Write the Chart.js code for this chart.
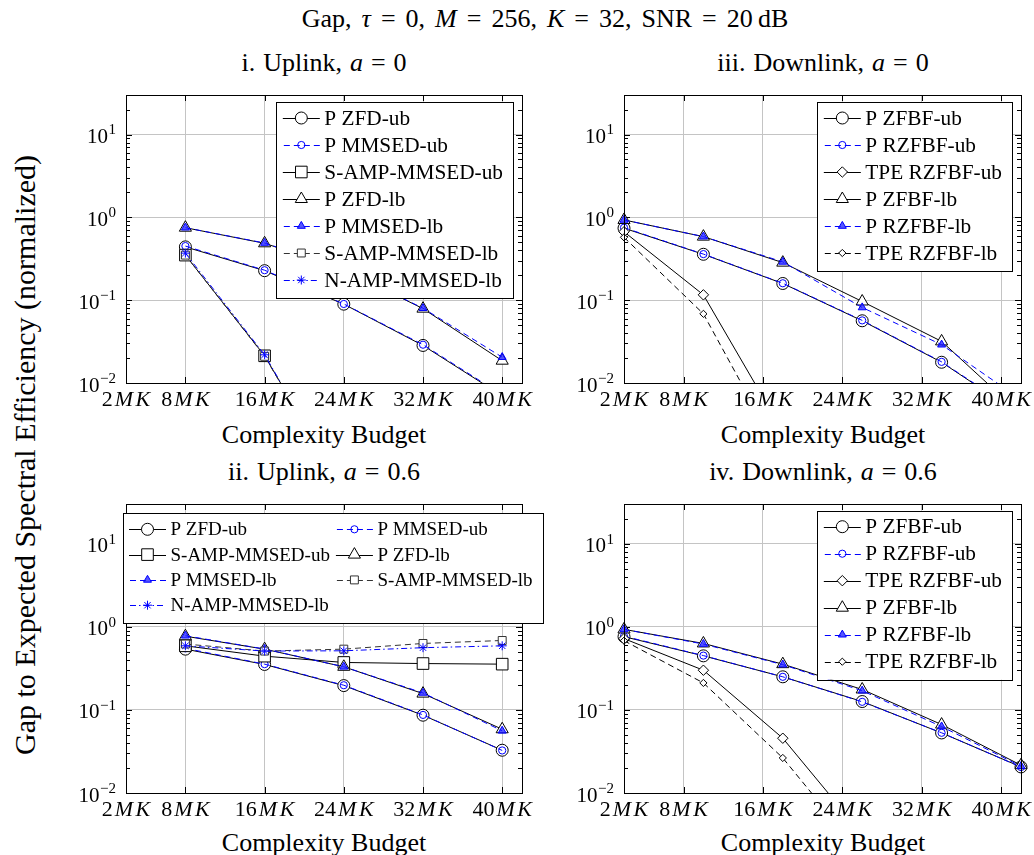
<!DOCTYPE html>
<html>
<head>
<meta charset="utf-8">
<script src="https://cdn.jsdelivr.net/npm/chart.js@4.4.1/dist/chart.umd.min.js"></script>
<style>
  body { margin: 0; background: #fff; }
  #page { position: relative; width: 1034px; height: 855px; overflow: hidden;
          font-family: "Liberation Serif", "Times New Roman", serif; color: #000; }
  .txt { position: absolute; white-space: nowrap; transform: translate(-50%, -50%);
         font-size: 26px; line-height: 1; }
  .title { word-spacing: 3.5px; }
  .sub { word-spacing: 1.5px; }
  .ylab { transform: translate(-50%, -50%) rotate(-90deg); font-size: 30px; }
  canvas { position: absolute; }
</style>
</head>
<body>
<div id="page">
  <div class="txt title" style="left:545px;top:19px">Gap, <i>τ</i> = 0, <i>M</i> = 256, <i>K</i> = 32, SNR = 20&thinsp;dB</div>
  <div class="txt sub" style="left:324px;top:63px">i. Uplink, <i>a</i> = 0</div>
  <div class="txt sub" style="left:823px;top:63px">iii. Downlink, <i>a</i> = 0</div>
  <div class="txt sub" style="left:324px;top:472px">ii. Uplink, <i>a</i> = 0.6</div>
  <div class="txt sub" style="left:823px;top:472px">iv. Downlink, <i>a</i> = 0.6</div>
  <div class="txt" style="left:324px;top:435px">Complexity Budget</div>
  <div class="txt" style="left:823px;top:435px">Complexity Budget</div>
  <div class="txt" style="left:324px;top:843px">Complexity Budget</div>
  <div class="txt" style="left:823px;top:843px">Complexity Budget</div>
  <div class="txt ylab" style="left:25px;top:455px">Gap to Expected Spectral Efficiency (normalized)</div>
  <canvas id="c1"></canvas>
  <canvas id="c2"></canvas>
  <canvas id="c3"></canvas>
  <canvas id="c4"></canvas>
</div>
<script>
// budgets in units of MK
const uplinkBudget = [8, 16, 24, 32, 40];
const downlinkBudget = [2, 10, 18, 26, 34, 42];
const budgetTicks = [2, 8, 16, 24, 32, 40];
const gapTicks = [0.01, 0.1, 1, 10];

// i. Uplink, a = 0
const ul0_pZfdUb   = [0.44, 0.227, 0.0895, 0.0284, 0.007];
const ul0_pMmsedUb = [0.45, 0.23, 0.09, 0.029, 0.0072];
const ul0_sAmpUb   = [0.35, 0.0213, 0.0005, null, null];
const ul0_pZfdLb   = [0.75, 0.486, 0.235, 0.079, 0.0186];
const ul0_pMmsedLb = [0.75, 0.49, 0.235, 0.08, 0.0205];
const ul0_sAmpLb   = [0.35, 0.021, 0.0005, null, null];
const ul0_nAmpLb   = [0.37, 0.0219, 0.0005, null, null];

// ii. Uplink, a = 0.6
const ul6_pZfdUb   = [0.538, 0.352, 0.196, 0.0863, 0.0327];
const ul6_pMmsedUb = [0.55, 0.355, 0.198, 0.087, 0.0325];
const ul6_sAmpUb   = [0.59, 0.443, 0.372, 0.361, 0.355];
const ul6_pZfdLb   = [0.77, 0.538, 0.33, 0.157, 0.0585];
const ul6_pMmsedLb = [0.78, 0.54, 0.33, 0.16, 0.056];
const ul6_sAmpLb   = [0.62, 0.51, 0.538, 0.63, 0.684];
const ul6_nAmpLb   = [0.59, 0.51, 0.514, 0.56, 0.59];

// iii. Downlink, a = 0
const dl0_pZfbfUb  = [0.74, 0.358, 0.159, 0.0564, 0.0178, 0.0041];
const dl0_pRzfbfUb = [0.75, 0.36, 0.16, 0.057, 0.018, 0.0042];
const dl0_tpeUb    = [0.67, 0.116, 0.0026, null, null, null];
const dl0_pZfbfLb  = [0.93, 0.585, 0.284, 0.0964, 0.0318, 0.0042];
const dl0_pRzfbfLb = [0.93, 0.585, 0.29, 0.0816, 0.029, 0.0063];
const dl0_tpeLb    = [0.574, 0.0684, 0.0012, null, null, null];

// iv. Downlink, a = 0.6
const dl6_pZfbfUb  = [0.76, 0.447, 0.25, 0.126, 0.0528, 0.0206];
const dl6_pRzfbfUb = [0.77, 0.45, 0.25, 0.125, 0.053, 0.0205];
const dl6_tpeUb    = [0.72, 0.30, 0.0456, 0.0032, null, null];
const dl6_pZfbfLb  = [0.93, 0.63, 0.355, 0.176, 0.0666, 0.0216];
const dl6_pRzfbfLb = [0.93, 0.62, 0.35, 0.17, 0.063, 0.021];
const dl6_tpeLb    = [0.68, 0.211, 0.0264, 0.0018, null, null];

const BLUE = '#0000ff';
const FONT = '"Liberation Serif", "Times New Roman", serif';
const styles = {
  zfUb:  { color: '#000', dash: [], point: 'circle', r: 6, fill: '#fff' },
  rzUb:  { color: BLUE, dash: [6, 4], point: 'circle', r: 3.6, fill: 'rgba(0,0,0,0)' },
  ampUb: { color: '#000', dash: [], point: 'rect', r: 8.2, fill: '#fff' },
  tpeUb: { color: '#000', dash: [], point: 'rectRot', r: 5.2, fill: '#fff' },
  zfLb:  { color: '#000', dash: [], point: 'triangle', r: 7, fill: '#fff' },
  rzLb:  { color: BLUE, dash: [6, 4], point: 'triangle', r: 4.6, fill: 'rgba(30,30,255,0.75)' },
  ampLb: { color: '#333', dash: [6, 4], point: 'rect', r: 5.6, fill: '#fff' },
  tpeLb: { color: '#000', dash: [6, 4], point: 'rectRot', r: 3.6, fill: '#fff' },
  nAmpLb:{ color: BLUE, dash: [6, 3, 1.5, 3], point: 'star', r: 4.5, fill: BLUE }
};

function dataset(label, budget, values, styleName, i) {
  const st = styles[styleName];
  return {
    label: label,
    data: budget.map((b, k) => ({ x: b, y: values[k] })),
    borderColor: st.color, borderWidth: 1, borderDash: st.dash,
    pointStyle: st.point, pointRadius: st.r, pointBorderWidth: 1,
    pointBorderColor: st.color, pointBackgroundColor: st.fill,
    styleName: styleName, order: -i, tension: 0, fill: false,
    clip: { left: 10, right: 10, top: 0, bottom: 0 }
  };
}

function drawMarker(ctx, st, x, y) {
  ctx.save();
  ctx.setLineDash([]);
  ctx.lineWidth = 1;
  ctx.strokeStyle = st.color;
  ctx.fillStyle = st.fill;
  Chart.helpers.drawPoint(ctx, { pointStyle: st.point, radius: st.r, rotation: 0, borderWidth: 1 }, x, y);
  ctx.restore();
}

function drawLegend(ctx, chart, spec) {
  const a = chart.chartArea;
  const items = chart.data.datasets;
  const cols = spec.cols;
  const rows = Math.ceil(items.length / cols);
  ctx.font = spec.font + 'px ' + FONT;
  const colText = [];
  for (let c = 0; c < cols; c++) {
    let w = 0;
    items.forEach((d, i) => { if (i % cols === c) w = Math.max(w, ctx.measureText(d.label).width); });
    colText.push(w);
  }
  const textOff = 41.5, colGap = 6;
  let width = 6.5;
  colText.forEach((w, c) => { width += textOff + w + (c < cols - 1 ? colGap : 0); });
  width += 10;
  const height = 16 + (rows - 1) * spec.rowH + 18;
  const left = spec.anchor === 'right' ? a.right + spec.dx - width : a.left + spec.dx;
  const top = a.top + spec.dy;
  ctx.save();
  ctx.fillStyle = '#fff';
  ctx.fillRect(left, top, width, height);
  ctx.strokeStyle = '#000';
  ctx.lineWidth = 1;
  ctx.strokeRect(Math.round(left) + 0.5, Math.round(top) + 0.5, Math.round(width), Math.round(height));
  items.forEach((d, i) => {
    const c = i % cols, r = Math.floor(i / cols);
    let cx = left + 6.5;
    for (let k = 0; k < c; k++) cx += textOff + colText[k] + colGap;
    const cy = top + 16 + r * spec.rowH;
    const st = styles[d.styleName];
    ctx.beginPath();
    ctx.setLineDash(st.dash);
    ctx.lineDashOffset = st.dash.length ? -1 : 0;
    ctx.strokeStyle = st.color;
    ctx.moveTo(cx, Math.round(cy) + 0.5);
    ctx.lineTo(cx + 37, Math.round(cy) + 0.5);
    ctx.stroke();
    drawMarker(ctx, st, cx + 18.5, cy);
    ctx.setLineDash([]);
    ctx.fillStyle = '#000';
    ctx.font = spec.font + 'px ' + FONT;
    ctx.textAlign = 'left';
    ctx.textBaseline = 'middle';
    ctx.fillText(d.label, cx + textOff, cy + 1);
  });
  ctx.restore();
}

const framePlugin = {
  id: 'frame',
  beforeDatasetsDraw(chart) {
    const { ctx, chartArea: a, scales: { x, y } } = chart;
    ctx.save();
    ctx.strokeStyle = '#000';
    ctx.lineWidth = 1;
    ctx.beginPath();
    for (let k = -2; k <= 1; k++) {
      for (let m = 1; m <= 9; m++) {
        const v = m * Math.pow(10, k);
        if (v < y.min || v > y.max) continue;
        const py = Math.round(y.getPixelForValue(v)) + 0.5;
        const len = m === 1 ? 6 : 4;
        ctx.moveTo(a.left, py); ctx.lineTo(a.left + len, py);
        ctx.moveTo(a.right, py); ctx.lineTo(a.right - len, py);
      }
    }
    budgetTicks.forEach(v => {
      const px = Math.round(x.getPixelForValue(v)) + 0.5;
      ctx.moveTo(px, a.bottom); ctx.lineTo(px, a.bottom - 6);
      ctx.moveTo(px, a.top); ctx.lineTo(px, a.top + 6);
    });
    ctx.stroke();
    ctx.restore();
  },
  afterDatasetsDraw(chart, args, opts) {
    const { ctx, chartArea: a, scales: { x, y } } = chart;
    ctx.save();
    ctx.strokeStyle = '#000';
    ctx.lineWidth = 1;
    const l = Math.round(a.left) + 0.5, t = Math.round(a.top) + 0.5;
    ctx.strokeRect(l, t, Math.round(a.right) - Math.round(a.left), Math.round(a.bottom) - Math.round(a.top));
    ctx.fillStyle = '#000';
    ctx.textBaseline = 'middle';
    // y tick labels: 10^k
    gapTicks.forEach(v => {
      const py = y.getPixelForValue(v);
      const e = Math.round(Math.log10(v));
      const sup = e < 0 ? '\u2212' + (-e) : String(e);
      const right = a.left - 10;
      ctx.textAlign = 'right';
      ctx.font = '15px ' + FONT;
      const sw = ctx.measureText(sup).width;
      ctx.fillText(sup, right, py - 4);
      ctx.font = '21px ' + FONT;
      ctx.fillText('10', right - sw - 0.5, py + 3);
    });
    // x tick labels: nMK
    budgetTicks.forEach(v => {
      const px = x.getPixelForValue(v);
      const num = String(v);
      ctx.font = '22px ' + FONT;
      const wn = ctx.measureText(num).width;
      ctx.font = 'italic 22px ' + FONT;
      const wm = ctx.measureText('M').width, wk = ctx.measureText('K').width;
      const total = wn + 2 + wm + 2.5 + wk;
      let cx = px - total / 2;
      const cy = a.bottom + 17;
      ctx.textAlign = 'left';
      ctx.font = '22px ' + FONT;
      ctx.fillText(num, cx, cy);
      ctx.font = 'italic 22px ' + FONT;
      ctx.fillText('M', cx + wn + 2, cy);
      ctx.fillText('K', cx + wn + 2 + wm + 2.5, cy);
    });
    ctx.restore();
    drawLegend(ctx, chart, opts.legend);
  }
};

function makePanel(id, box, area, budget, series, legend) {
  const cv = document.getElementById(id);
  cv.width = box[2]; cv.height = box[3];
  cv.style.left = box[0] + 'px'; cv.style.top = box[1] + 'px';
  cv.style.width = box[2] + 'px'; cv.style.height = box[3] + 'px';
  new Chart(cv, {
    type: 'line',
    data: { datasets: series.map((s, i) => dataset(s[0], budget, s[1], s[2], i)) },
    options: {
      responsive: false, animation: false, events: [],
      layout: { padding: {
        left: area[0] - box[0], top: area[1] - box[1],
        right: box[0] + box[2] - area[2], bottom: box[1] + box[3] - area[3] } },
      scales: {
        x: { type: 'linear', min: 2, max: 42,
             afterBuildTicks: s => { s.ticks = budgetTicks.map(v => ({ value: v })); },
             ticks: { display: false }, border: { display: false },
             grid: { color: '#c4c4c4', lineWidth: 1, drawTicks: false } },
        y: { type: 'logarithmic', min: 0.01, max: 30,
             afterBuildTicks: s => { s.ticks = gapTicks.map(v => ({ value: v })); },
             ticks: { display: false }, border: { display: false },
             grid: { color: '#c4c4c4', lineWidth: 1, drawTicks: false } }
      },
      plugins: { legend: { display: false }, tooltip: { enabled: false }, frame: { legend: legend } }
    },
    plugins: [framePlugin]
  });
}

const legendRight = { anchor: 'right', dx: -9, dy: 7, cols: 1, font: 21.3, rowH: 27 };

makePanel('c1', [40, 80, 500, 350], [126, 95, 522, 383], uplinkBudget, [
  ['P ZFD-ub', ul0_pZfdUb, 'zfUb'],
  ['P MMSED-ub', ul0_pMmsedUb, 'rzUb'],
  ['S-AMP-MMSED-ub', ul0_sAmpUb, 'ampUb'],
  ['P ZFD-lb', ul0_pZfdLb, 'zfLb'],
  ['P MMSED-lb', ul0_pMmsedLb, 'rzLb'],
  ['S-AMP-MMSED-lb', ul0_sAmpLb, 'ampLb'],
  ['N-AMP-MMSED-lb', ul0_nAmpLb, 'nAmpLb']
], legendRight);

makePanel('c2', [560, 80, 474, 350], [624, 95, 1021, 383], downlinkBudget, [
  ['P ZFBF-ub', dl0_pZfbfUb, 'zfUb'],
  ['P RZFBF-ub', dl0_pRzfbfUb, 'rzUb'],
  ['TPE RZFBF-ub', dl0_tpeUb, 'tpeUb'],
  ['P ZFBF-lb', dl0_pZfbfLb, 'zfLb'],
  ['P RZFBF-lb', dl0_pRzfbfLb, 'rzLb'],
  ['TPE RZFBF-lb', dl0_tpeLb, 'tpeLb']
], legendRight);

makePanel('c3', [40, 490, 515, 345], [126, 504, 522, 793], uplinkBudget, [
  ['P ZFD-ub', ul6_pZfdUb, 'zfUb'],
  ['P MMSED-ub', ul6_pMmsedUb, 'rzUb'],
  ['S-AMP-MMSED-ub', ul6_sAmpUb, 'ampUb'],
  ['P ZFD-lb', ul6_pZfdLb, 'zfLb'],
  ['P MMSED-lb', ul6_pMmsedLb, 'rzLb'],
  ['S-AMP-MMSED-lb', ul6_sAmpLb, 'ampLb'],
  ['N-AMP-MMSED-lb', ul6_nAmpLb, 'nAmpLb']
], { anchor: 'left', dx: -3.5, dy: 9.3, cols: 2, font: 19, rowH: 25.3 });

makePanel('c4', [560, 490, 474, 345], [624, 504, 1021, 793], downlinkBudget, [
  ['P ZFBF-ub', dl6_pZfbfUb, 'zfUb'],
  ['P RZFBF-ub', dl6_pRzfbfUb, 'rzUb'],
  ['TPE RZFBF-ub', dl6_tpeUb, 'tpeUb'],
  ['P ZFBF-lb', dl6_pZfbfLb, 'zfLb'],
  ['P RZFBF-lb', dl6_pRzfbfLb, 'rzLb'],
  ['TPE RZFBF-lb', dl6_tpeLb, 'tpeLb']
], { anchor: 'right', dx: -9, dy: 6.7, cols: 1, font: 21.3, rowH: 27 });
</script>
</body>
</html>
